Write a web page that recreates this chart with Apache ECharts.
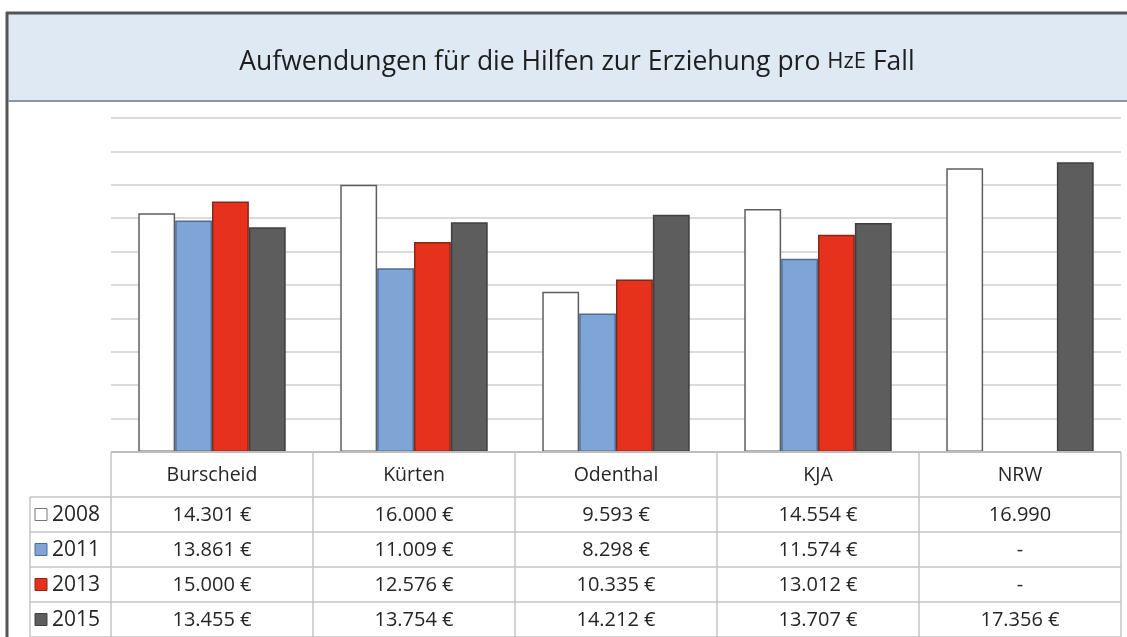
<!DOCTYPE html>
<html>
<head>
<meta charset="utf-8">
<script src="https://cdn.jsdelivr.net/npm/echarts@6/dist/echarts.min.js"></script>
<style>
html,body{margin:0;padding:0;background:#fff;}
#main{width:1127px;height:637px;}
</style>
</head>
<body>
<div id="main"></div>
<script>
const titleText = 'Aufwendungen für die Hilfen zur Erziehung pro ';
const titleTail = 'HzE';
const titleEnd = ' Fall';
const categories = ['Burscheid', 'Kürten', 'Odenthal', 'KJA', 'NRW'];
const years = ['2008', '2011', '2013', '2015'];
const values2008 = [14301, 16000, 9593, 14554, 16990];
const values2011 = [13861, 11009, 8298, 11574, null];
const values2013 = [15000, 12576, 10335, 13012, null];
const values2015 = [13455, 13754, 14212, 13707, 17356];
const noEuroCells = [['NRW', '2008']];
const yMin = 0, yMax = 20000, yInterval = 2000;

const seriesValues = [values2008, values2011, values2013, values2015];
const fills = ['#ffffff', '#7fa4d6', '#e6321d', '#5d5d5d'];
const borders = ['#5e5e5e', '#4f6c94', '#862818', '#404040'];
const FONT = '"Open Sans", "Noto Sans", sans-serif';

function fmt(v, cat, yr) {
  if (v == null) return '-';
  const s = String(v).replace(/\B(?=(\d{3})+(?!\d))/g, '.');
  const omit = noEuroCells.some(c => c[0] === cat && c[1] === yr);
  return omit ? s : s + ' €';
}

const chart = echarts.init(document.getElementById('main'), null, {renderer: 'canvas'});
const gridTop = 118, gridBottomPx = 452, gridLeft = 111, gridRight = 1121;

const option = {
  backgroundColor: '#ffffff',
  animation: false,
  grid: {left: gridLeft, right: 1127 - gridRight, top: gridTop, bottom: 637 - gridBottomPx},
  xAxis: {
    type: 'category', data: categories,
    axisLine: {show: false}, axisTick: {show: false}, axisLabel: {show: false}
  },
  yAxis: {
    type: 'value', min: yMin, max: yMax, interval: yInterval,
    axisLine: {show: false}, axisTick: {show: false}, axisLabel: {show: false},
    splitLine: {lineStyle: {color: '#cfcfcf', width: 1.5}}
  },
  series: years.map((y, i) => ({
    name: y, type: 'bar', data: seriesValues[i],
    barGap: '0%', barCategoryGap: '27%',
    itemStyle: {color: fills[i], borderColor: borders[i], borderWidth: 1.5}
  }))
};
chart.setOption(option);

const c0 = chart.convertToPixel({xAxisIndex: 0}, 0);
const c1 = chart.convertToPixel({xAxisIndex: 0}, 1);
const bw = c1 - c0;
const leftEdge = c0 - bw / 2;
const rightEdge = leftEdge + bw * categories.length;
const tableTop = chart.convertToPixel({yAxisIndex: 0}, 0);
const headerH = 45;
const rowH = 35;
const legendLeft = 30;
const lineColor = '#c4c4c4';
const textColor = '#262626';
const g = [];

g.push({type: 'rect', shape: {x: 8, y: 14, width: 1127, height: 87}, style: {fill: '#dfe9f4'}, z: 0});
g.push({type: 'line', shape: {x1: 6, y1: 13, x2: 1127, y2: 13}, style: {stroke: '#555', lineWidth: 3}, z: 5});
g.push({type: 'line', shape: {x1: 7, y1: 12, x2: 7, y2: 637}, style: {stroke: '#555', lineWidth: 3}, z: 5});
g.push({type: 'line', shape: {x1: 8, y1: 101, x2: 1127, y2: 101}, style: {stroke: '#8a96a3', lineWidth: 2}, z: 5});
g.push({
  type: 'text', x: 577, y: 62, z: 6,
  style: {
    text: '{a|' + titleText + '}{b|' + titleTail + '}{a|' + titleEnd + '}',
    textAlign: 'center', textVerticalAlign: 'middle',
    rich: {
      a: {fontSize: 26.5, fontFamily: FONT, fill: '#1e1e1e'},
      b: {fontSize: 22, fontFamily: FONT, fill: '#1e1e1e'}
    }
  }
});

const rowsTop = tableTop + headerH;
const bottom = rowsTop + rowH * years.length;
g.push({type: 'line', shape: {x1: leftEdge, y1: tableTop, x2: rightEdge, y2: tableTop}, style: {stroke: '#bdbdbd', lineWidth: 2}, z: 5});
for (let r = 0; r <= years.length; r++) {
  const y = rowsTop + r * rowH;
  g.push({type: 'line', shape: {x1: legendLeft, y1: y, x2: rightEdge, y2: y}, style: {stroke: lineColor, lineWidth: 1.5}, z: 5});
}
g.push({type: 'line', shape: {x1: legendLeft, y1: rowsTop, x2: legendLeft, y2: bottom}, style: {stroke: lineColor, lineWidth: 1.5}, z: 5});
for (let i = 0; i <= categories.length; i++) {
  const x = leftEdge + i * bw;
  g.push({type: 'line', shape: {x1: x, y1: tableTop, x2: x, y2: bottom}, style: {stroke: lineColor, lineWidth: 1.5}, z: 5});
}
categories.forEach((c, i) => {
  g.push({type: 'text', x: leftEdge + (i + 0.5) * bw, y: tableTop + headerH / 2 + 1, z: 6,
    style: {text: c, textAlign: 'center', textVerticalAlign: 'middle', fontSize: 19.5, fontFamily: FONT, fill: textColor}});
});
years.forEach((yr, r) => {
  const yc = rowsTop + (r + 0.5) * rowH + 1;
  g.push({type: 'rect', shape: {x: 35, y: yc - 7, width: 12, height: 12},
    style: {fill: fills[r], stroke: r === 0 ? '#777' : borders[r], lineWidth: 1}, z: 6});
  g.push({type: 'text', x: 52, y: yc, z: 6,
    style: {text: yr, textAlign: 'left', textVerticalAlign: 'middle', fontSize: 21, fontFamily: FONT, fill: textColor}});
  categories.forEach((c, i) => {
    g.push({type: 'text', x: leftEdge + (i + 0.5) * bw, y: yc, z: 6,
      style: {text: fmt(seriesValues[r][i], c, yr), textAlign: 'center', textVerticalAlign: 'middle', fontSize: 20, fontFamily: FONT, fill: textColor}});
  });
});

chart.setOption({graphic: {elements: g}});
</script>
</body>
</html>
